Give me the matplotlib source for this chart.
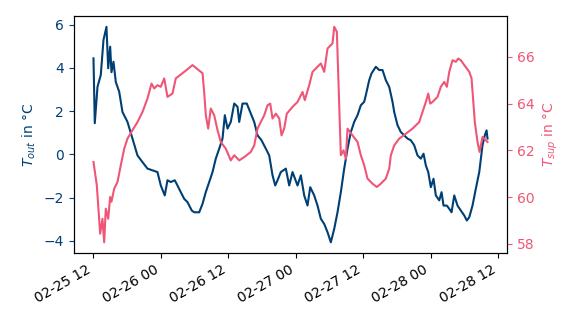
import matplotlib
matplotlib.use('Agg')
from matplotlib import pyplot as plt
import matplotlib.dates as mdates
import pandas as pd

# outdoor temperature (hours after start, degC)
t_out_hours = [0.0, 0.23, 0.71, 1.3, 1.78, 2.31, 2.62, 2.97, 3.2, 3.56, 3.97, 4.58, 5.16, 6.05,
               6.94, 7.83, 8.72, 9.61, 10.5, 11.39, 11.98, 12.69, 13.17, 13.76, 14.47, 14.95,
               15.54, 16.15, 16.73, 17.5, 17.93, 18.82, 19.41, 19.99, 20.6, 21.19, 21.77, 22.38,
               22.97, 23.38, 23.86, 24.44, 25.05, 25.64, 25.94, 26.53, 27.29, 28.0, 28.61, 29.2,
               29.91, 30.68, 31.28, 31.87, 32.35, 32.76, 33.35, 34.24, 34.84, 35.43, 36.32, 36.91,
               37.51, 38.1, 38.58, 39.29, 39.88, 40.47, 41.07, 41.66, 42.25, 42.85, 43.44, 44.03,
               44.63, 45.22, 45.81, 46.41, 47.0, 47.59, 48.19, 48.48, 49.08, 49.49, 50.26, 50.86,
               51.45, 52.04, 52.64, 53.23, 53.53, 54.12, 54.71, 55.32, 55.9, 56.49, 57.09, 57.68,
               58.27, 58.75, 59.16, 59.59, 60.05, 60.53, 60.94, 61.55, 61.96, 62.31, 62.9, 63.33,
               63.74, 64.22, 64.8, 65.39, 66.0, 66.46, 66.89, 67.47, 68.06, 68.67, 69.25, 69.66,
               69.97, 70.14]
t_out = [4.44, 1.44, 3.12, 3.67, 5.29, 5.9, 3.98, 4.98, 3.8, 4.28, 3.35, 2.89, 1.96, 1.5,
         0.73, -0.05, -0.36, -0.66, -0.74, -0.82, -1.44, -1.9, -1.2, -1.28, -1.2, -1.44,
         -1.75, -2.06, -2.21, -2.6, -2.68, -2.68, -2.29, -1.75, -1.28, -0.82, -0.2, 0.26,
         0.73, 1.81, 1.19, 1.5, 2.35, 2.2, 1.5, 2.35, 2.35, 1.89, 1.5, 0.88,
         0.65, 0.26, -0.05, -0.97, -1.44, -1.2, -0.82, -0.66, -1.44, -0.82, -1.44, -0.97,
         -1.9, -2.37, -1.52, -1.9, -2.37, -2.98, -3.22, -3.6, -4.07, -3.45, -2.68, -1.75,
         -0.66, 0.26, 1.03, 1.5, 1.81, 2.27, 2.43, 2.74, 3.43, 3.74, 4.05, 3.9,
         3.9, 3.43, 3.12, 2.43, 1.96, 1.35, 1.03, 0.88, 0.73, 0.65, 0.42, -0.05,
         -0.2, 0.03, -0.51, -0.82, -1.52, -1.13, -1.9, -2.13, -1.75, -2.37, -2.37, -2.52,
         -2.68, -1.9, -2.37, -2.6, -2.83, -3.06, -2.91, -2.37, -1.59, -0.82, 0.42, 0.88,
         1.11, 0.73]

# supply temperature (hours after start, degC)
t_sup_hours = [0.0, 0.59, 1.19, 1.6, 1.9, 2.19, 2.62, 2.97, 3.2, 3.69, 4.27, 4.86, 5.47, 6.05,
               6.94, 7.83, 8.72, 9.61, 10.33, 10.81, 11.39, 11.98, 12.59, 13.17, 14.06, 14.65,
               16.15, 17.63, 19.41, 19.7, 20.0, 20.42, 20.88, 21.49, 22.08, 22.66, 23.55, 24.44,
               25.05, 25.94, 26.83, 28.0, 28.61, 29.2, 29.78, 30.39, 30.98, 31.46, 31.87, 32.46,
               33.07, 33.47, 33.95, 34.41, 35.43, 35.73, 36.32, 37.21, 37.62, 38.4, 38.99, 40.47,
               41.07, 41.66, 42.55, 42.85, 43.32, 44.03, 44.51, 44.92, 45.22, 46.11, 47.0, 47.59,
               48.19, 48.78, 49.67, 50.44, 51.15, 52.04, 52.64, 52.93, 53.53, 54.42, 55.6, 56.79,
               57.98, 58.57, 59.16, 59.59, 59.94, 60.35, 61.24, 61.83, 62.43, 62.9, 63.33, 63.91,
               64.5, 64.93, 65.39, 66.0, 66.89, 67.3, 67.88, 68.36, 68.72, 69.25, 69.84, 70.14]
t_sup = [61.5, 60.5, 58.43, 59.07, 58.06, 59.5, 59.07, 60.0, 59.8, 60.36, 60.64, 61.36, 62.07, 62.5,
         62.86, 63.21, 63.64, 64.22, 64.86, 64.65, 64.79, 64.72, 65.08, 64.29, 64.43, 65.08,
         65.36, 65.65, 65.3, 64.5, 63.5, 62.93, 63.79, 63.5, 62.86, 62.36, 62.07, 61.57,
         61.79, 61.57, 61.71, 61.93, 62.21, 62.93, 63.21, 63.5, 63.93, 64.0, 63.36, 63.57,
         63.36, 62.64, 62.93, 63.57, 63.86, 63.93, 64.07, 64.5, 64.15, 64.79, 65.36, 65.72,
         65.36, 66.36, 66.58, 67.29, 67.08, 61.79, 62.0, 61.64, 62.93, 62.64, 62.36, 61.79,
         61.36, 60.79, 60.57, 60.43, 60.57, 60.79, 61.21, 61.79, 62.21, 62.5, 62.71, 62.93,
         63.21, 63.64, 64.07, 64.43, 64.0, 64.07, 64.29, 64.72, 64.93, 64.72, 65.36, 65.86,
         65.79, 65.93, 65.86, 65.65, 65.36, 65.08, 63.21, 62.36, 61.93, 62.57, 62.43, 62.36]

start = pd.Timestamp('2021-02-25 12:00')
out_times = start + pd.to_timedelta(t_out_hours, unit='h')
sup_times = start + pd.to_timedelta(t_sup_hours, unit='h')

c_out = '#003f74'
c_sup = '#ef5675'

fig = plt.figure(figsize=(5.81, 3.27), dpi=100)
ax = fig.add_axes([0.127, 0.226, 0.746, 0.725])
ax.plot(out_times, t_out, color=c_out, lw=1.5)
ax.set_ylabel('$T_{out}$ in °C', color=c_out)
ax.tick_params(axis='y', colors=c_out)

ax2 = ax.twinx()
ax2.plot(sup_times, t_sup, color=c_sup, lw=1.5)
ax2.set_ylabel('$T_{sup}$ in °C', color=c_sup)
ax2.tick_params(axis='y', colors=c_sup)

ax.xaxis.set_major_locator(mdates.HourLocator(byhour=[0, 12]))
ax.xaxis.set_major_formatter(mdates.DateFormatter('%m-%d %H'))
for lbl in ax.get_xticklabels():
    lbl.set_rotation(30)
    lbl.set_ha('right')

fig.savefig('out.png', dpi=100)
